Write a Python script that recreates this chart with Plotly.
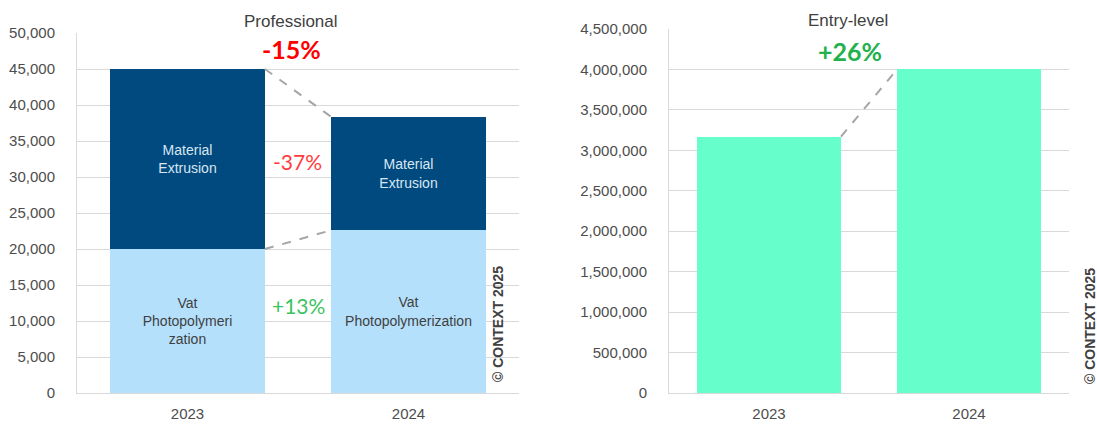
import plotly.graph_objects as go

# ---- data ----
years = ["2023", "2024"]
vat_photo = [20000, 22600]          # Professional: Vat Photopolymerization
mat_extrusion = [25000, 15750]      # Professional: Material Extrusion
entry_level = [3170000, 4000000]    # Entry-level shipments
vat_labels = ["Vat<br>Photopolymeri<br>zation", "Vat<br>Photopolymerization"]
mat_labels = ["Material<br>Extrusion", "Material<br>Extrusion"]

W, H = 1097, 426
def px(x):
    return x / W
def py(y):
    return 1 - y / H

C_MAT = "#004a7f"
C_VAT = "#b5e0fc"
C_ENTRY = "#66ffcc"
C_DASH = "#a6a6a6"
C_TXT = "#404040"
C_TICK = "#4d4d4d"
GRID = "#d9d9d9"

BW_L = 0.70
BW_R = 0.72
xs = [0, 1]

fig = go.Figure()

fig.add_trace(go.Bar(
    x=xs, y=vat_photo, width=BW_L, marker=dict(color=C_VAT, line=dict(width=0)),
    text=vat_labels, textposition="inside", insidetextanchor="middle",
    textangle=0, constraintext="none",
    textfont=dict(family="Liberation Sans", size=14, color=C_TXT),
    xaxis="x", yaxis="y", showlegend=False,
))
fig.add_trace(go.Bar(
    x=xs, y=mat_extrusion, width=BW_L, marker=dict(color=C_MAT, line=dict(width=0)),
    text=mat_labels, textposition="inside", insidetextanchor="middle",
    textangle=0, constraintext="none",
    textfont=dict(family="Liberation Sans", size=14, color="#d8e6f1"),
    xaxis="x", yaxis="y", showlegend=False,
))

totals = [v + m for v, m in zip(vat_photo, mat_extrusion)]

# dashed connectors between bar corners
for series in (totals, vat_photo):
    fig.add_trace(go.Scatter(
        x=[xs[0] + BW_L / 2, xs[1] - BW_L / 2], y=series, mode="lines",
        line=dict(color=C_DASH, width=2, dash="dash"),
        xaxis="x", yaxis="y", showlegend=False, hoverinfo="skip",
    ))

fig.add_trace(go.Bar(
    x=xs, y=entry_level, width=BW_R, marker=dict(color=C_ENTRY, line=dict(width=0)),
    xaxis="x2", yaxis="y2", showlegend=False,
))
fig.add_trace(go.Scatter(
    x=[xs[0] + BW_R / 2, xs[1] - BW_R / 2], y=entry_level, mode="lines",
    line=dict(color=C_DASH, width=2, dash="dash"),
    xaxis="x2", yaxis="y2", showlegend=False, hoverinfo="skip",
))

def pct(a, b):
    return f"{(b / a - 1):+.0%}".replace("+-", "-")

chg_total = pct(totals[0], totals[1])
chg_mat = pct(mat_extrusion[0], mat_extrusion[1])
chg_vat = pct(vat_photo[0], vat_photo[1])
chg_entry = pct(entry_level[0], entry_level[1])

def col(s, neg, posc):
    return neg if s.startswith("-") else posc

def label(text, cx, cy, size, color, family="Liberation Sans", angle=0):
    return dict(text=text, x=px(cx), y=py(cy), xref="paper", yref="paper",
                xanchor="center", yanchor="middle", textangle=angle,
                showarrow=False, font=dict(family=family, size=size, color=color))

ann = [
    label("Professional", 291, 22, 17, C_TXT),
    label("Entry-level", 848, 20, 17, C_TXT),
    label(f"<b>{chg_total}</b>", 291, 49, 25, col(chg_total, "#ff0000", "#22b14c"), "Lato"),
    label(chg_mat, 297, 161, 21, col(chg_mat, "#ff3b3b", "#3cc35f"), "Lato"),
    label(chg_vat, 298, 305, 21, col(chg_vat, "#ff3b3b", "#3cc35f"), "Lato"),
    label(f"<b>{chg_entry}</b>", 850, 51, 25, col(chg_entry, "#ff0000", "#22b14c"), "Lato"),
]
for cx, cy in ((498, 324), (1090, 326)):
    ann.append(label("<b>© CONTEXT 2025</b>", cx, cy, 14, C_TXT, angle=-90))

axis_common = dict(
    tickfont=dict(family="Liberation Sans", size=15, color=C_TICK),
    zeroline=False,
    automargin=False,
)

fig.update_layout(
    width=W, height=H, autosize=False,
    margin=dict(l=0, r=0, t=0, b=0, autoexpand=False),
    paper_bgcolor="white", plot_bgcolor="white",
    barmode="stack", bargap=0,
    annotations=ann,
    xaxis=dict(domain=[px(77), px(519)], range=[-0.5, 1.5], tickvals=xs, ticktext=years,
               showgrid=False, showline=True, linecolor=GRID, linewidth=1,
               ticks="", ticklabelstandoff=7, anchor="y", **axis_common),
    yaxis=dict(domain=[1 - 393 / H, 1 - 33 / H], range=[0, 50000], dtick=5000,
               tickformat=",", showgrid=True, gridcolor=GRID, gridwidth=1,
               showline=True, linecolor=GRID, linewidth=1,
               ticks="", ticklabelstandoff=18, anchor="x", **axis_common),
    xaxis2=dict(domain=[px(669), px(1069)], range=[-0.5, 1.5], tickvals=xs, ticktext=years,
                showgrid=False, showline=True, linecolor=GRID, linewidth=1,
                ticks="", ticklabelstandoff=7, anchor="y2", **axis_common),
    yaxis2=dict(domain=[1 - 393 / H, 1 - 29 / H], range=[0, 4500000], dtick=500000,
                tickformat=",", showgrid=True, gridcolor=GRID, gridwidth=1,
                showline=True, linecolor=GRID, linewidth=1,
                ticks="", ticklabelstandoff=18, anchor="x2", **axis_common),
)

fig.write_html("out.html")
